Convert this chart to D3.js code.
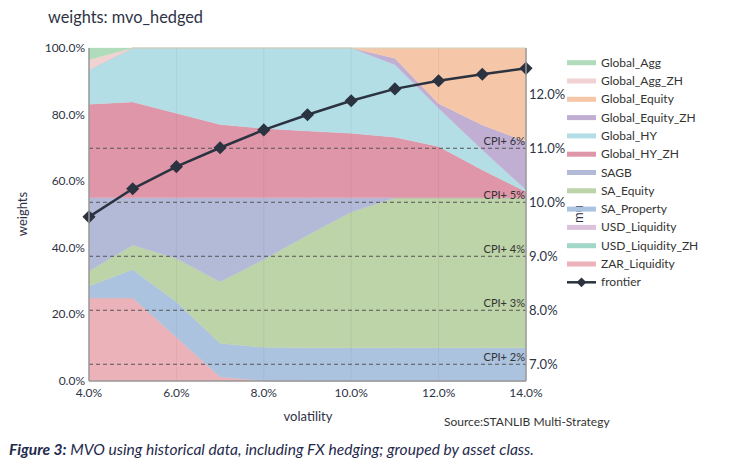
<!DOCTYPE html>
<html><head><meta charset="utf-8">
<script src="https://cdn.jsdelivr.net/npm/d3@7"></script>
<style>body{margin:0;background:#fff}svg{display:block}text{font-family:Lato,"Open Sans",sans-serif}</style>
</head><body><svg id="c" width="750" height="474"></svg>
<script>
// ---- data ----
const volatility = [4,5,6,7,8,9,10,11,12,13,14];
const Global_Agg       = [3.5,0,0,0,0,0,0,0,0,0,0];
const Global_Agg_ZH    = [3.0,0,0,0,0,0,0,0,0,0,0];
const Global_Equity    = [0,0,0,0,0,0,0,3.1,16.7,23.1,28.1];
const Global_Equity_ZH = [0,0,0,0,0,0,0,1.9,1.4,7.5,14.5];
const Global_HY        = [10.4,16.2,19.6,23.0,24.2,24.9,25.6,21.8,11.5,6.0,0.6];
const Global_HY_ZH     = [28.1,28.8,25.4,22.0,20.8,20.1,19.4,18.2,15.4,8.4,1.8];
const SAGB             = [22.0,14.2,18.2,25.2,18.5,11.2,4.3,0,0,0,0];
const SA_Equity        = [4.5,7.3,13.0,18.5,26.4,33.8,40.7,45.0,45.0,45.0,45.0];
const SA_Property      = [3.5,8.5,10.6,10.0,10.0,10.0,10.0,10.0,10.0,10.0,10.0];
const USD_Liquidity    = [0,0,0,0,0,0,0,0,0,0,0];
const USD_Liquidity_ZH = [0,0,0,0,0,0,0,0,0,0,0];
const ZAR_Liquidity    = [25.0,25.0,13.2,1.3,0.1,0,0,0,0,0,0];
const frontier = [9.73,10.25,10.66,11.01,11.34,11.62,11.88,12.10,12.25,12.37,12.48];
const cpiLevels = [7,8,9,10,11];
const cpiLabels = ["CPI+ 2%","CPI+ 3%","CPI+ 4%","CPI+ 5%","CPI+ 6%"];
const xTicks = [4,6,8,10,12,14];
const yTicks = [0,20,40,60,80,100];
const muTicks = [7,8,9,10,11,12];
const legendNames = ["Global_Agg","Global_Agg_ZH","Global_Equity","Global_Equity_ZH","Global_HY","Global_HY_ZH","SAGB","SA_Equity","SA_Property","USD_Liquidity","USD_Liquidity_ZH","ZAR_Liquidity"];
const colors = ["#b0dcbc","#f1d2d3","#f5c7a8","#c1afd3","#b3dee6","#df96a8","#b2bad8","#bdd3a8","#acc3df","#dcc3dd","#a2d6c8","#ecb2b9"];
const seriesData = {Global_Agg,Global_Agg_ZH,Global_Equity,Global_Equity_ZH,Global_HY,Global_HY_ZH,SAGB,SA_Equity,SA_Property,USD_Liquidity,USD_Liquidity_ZH,ZAR_Liquidity};

// ---- layout ----
const L=89, R=526, T=48, B=381;
const svg = d3.select("#c");
const x = d3.scaleLinear().domain([4,14]).range([L,R]);
const y = d3.scaleLinear().domain([0,100]).range([B,T]);
const y2 = d3.scaleLinear().domain([6.69,12.857]).range([B,T]);
const color = d3.scaleOrdinal().domain(legendNames).range(colors);

const rows = volatility.map((v,i)=>{const o={v}; legendNames.forEach(k=>o[k]=seriesData[k][i]); return o;});
const stackKeys = legendNames.slice().reverse();
const stacked = d3.stack().keys(stackKeys)(rows);
const area = d3.area().x(d=>x(d.data.v)).y0(d=>y(d[0])).y1(d=>y(d[1]));

svg.append("g").selectAll("path").data(stacked).join("path")
  .attr("d",area).attr("fill",d=>color(d.key)).attr("stroke",d=>color(d.key)).attr("stroke-width",0.3);

// faint grid
svg.append("g").selectAll("line").data(xTicks.slice(1,-1)).join("line")
  .attr("x1",d=>x(d)).attr("x2",d=>x(d)).attr("y1",T).attr("y2",B)
  .attr("stroke","#000").attr("stroke-opacity",0.05);

// CPI dashed lines
const cg = svg.append("g");
cg.selectAll("line").data(cpiLevels).join("line")
  .attr("x1",L).attr("x2",R).attr("y1",d=>y2(d)).attr("y2",d=>y2(d))
  .attr("stroke","#555").attr("stroke-width",1).attr("stroke-dasharray","4,3");
cg.selectAll("text").data(cpiLevels).join("text")
  .attr("x",R-1).attr("y",d=>y2(d)-3).attr("text-anchor","end")
  .attr("font-size",11).attr("fill","#333").text((d,i)=>cpiLabels[i]);

// frontier
const line = d3.line().x((d,i)=>x(volatility[i])).y(d=>y2(d));
svg.append("path").datum(frontier).attr("d",line).attr("fill","none")
  .attr("stroke","#2b3240").attr("stroke-width",2.5);
const diamond = d3.symbol().type(d3.symbolDiamond2).size(110);
svg.append("g").selectAll("path").data(frontier).join("path")
  .attr("d",diamond).attr("transform",(d,i)=>`translate(${x(volatility[i])},${y2(d)})`)
  .attr("fill","#2b3240");

// axes lines
const ax = svg.append("g").attr("stroke","#999").attr("stroke-width",1.5);
ax.append("line").attr("x1",L).attr("x2",L).attr("y1",T).attr("y2",B);
ax.append("line").attr("x1",R).attr("x2",R).attr("y1",T).attr("y2",B);
ax.append("line").attr("x1",L).attr("x2",R).attr("y1",B).attr("y2",B);

// tick labels
const tc="#2d3345";
svg.append("g").selectAll("text").data(yTicks).join("text")
  .attr("x",L-4).attr("y",d=>y(d)+4).attr("text-anchor","end").attr("font-size",12).attr("fill",tc)
  .text(d=>d.toFixed(1)+"%");
svg.append("g").selectAll("text").data(xTicks).join("text")
  .attr("x",d=>x(d)).attr("y",B+16).attr("text-anchor","middle").attr("font-size",12).attr("fill",tc)
  .text(d=>d.toFixed(1)+"%");
svg.append("g").selectAll("text").data(muTicks).join("text")
  .attr("x",R+3).attr("y",d=>y2(d)+5).attr("text-anchor","start").attr("font-size",13).attr("fill",tc)
  .text(d=>d.toFixed(1)+"%");

// titles
svg.append("text").attr("x",48).attr("y",23).attr("font-size",17).attr("fill","#2d3345")
  .attr("textLength",155).attr("lengthAdjust","spacingAndGlyphs").text("weights: mvo_hedged");
svg.append("text").attr("transform","translate(27,214) rotate(-90)").attr("text-anchor","middle").attr("font-size",13).attr("fill",tc).text("weights");
svg.append("text").attr("transform","translate(583,214) rotate(-90)").attr("text-anchor","middle").attr("font-size",13).attr("fill",tc).text("mu");
svg.append("text").attr("x",308).attr("y",421).attr("text-anchor","middle").attr("font-size",13).attr("fill",tc).text("volatility");
svg.append("text").attr("x",444).attr("y",426).attr("font-size",12).attr("fill","#333").text("Source:STANLIB Multi-Strategy");

// legend
const lg = svg.append("g");
const step = 18.3, ly0 = 62.7;
legendNames.forEach((k,i)=>{
  const yy = ly0 + i*step;
  lg.append("rect").attr("x",567).attr("y",yy-2.5).attr("width",29).attr("height",5).attr("fill",color(k));
  lg.append("text").attr("x",601).attr("y",yy+4).attr("font-size",12).attr("fill","#333").text(k);
});
const fy = ly0 + legendNames.length*step;
lg.append("line").attr("x1",567).attr("x2",596).attr("y1",fy).attr("y2",fy).attr("stroke","#2b3240").attr("stroke-width",2.5);
lg.append("path").attr("d",d3.symbol().type(d3.symbolDiamond2).size(60)).attr("transform",`translate(581.5,${fy})`).attr("fill","#2b3240");
lg.append("text").attr("x",601).attr("y",fy+4).attr("font-size",12).attr("fill","#333").text("frontier");

// caption
const cap = svg.append("text").attr("x",9).attr("y",455).attr("font-size",15).attr("font-style","italic").attr("fill","#1f2a4d")
  .attr("textLength",525).attr("lengthAdjust","spacingAndGlyphs");
cap.append("tspan").attr("font-weight","bold").text("Figure 3:");
cap.append("tspan").text(" MVO using historical data, including FX hedging; grouped by asset class.");
</script></body></html>
